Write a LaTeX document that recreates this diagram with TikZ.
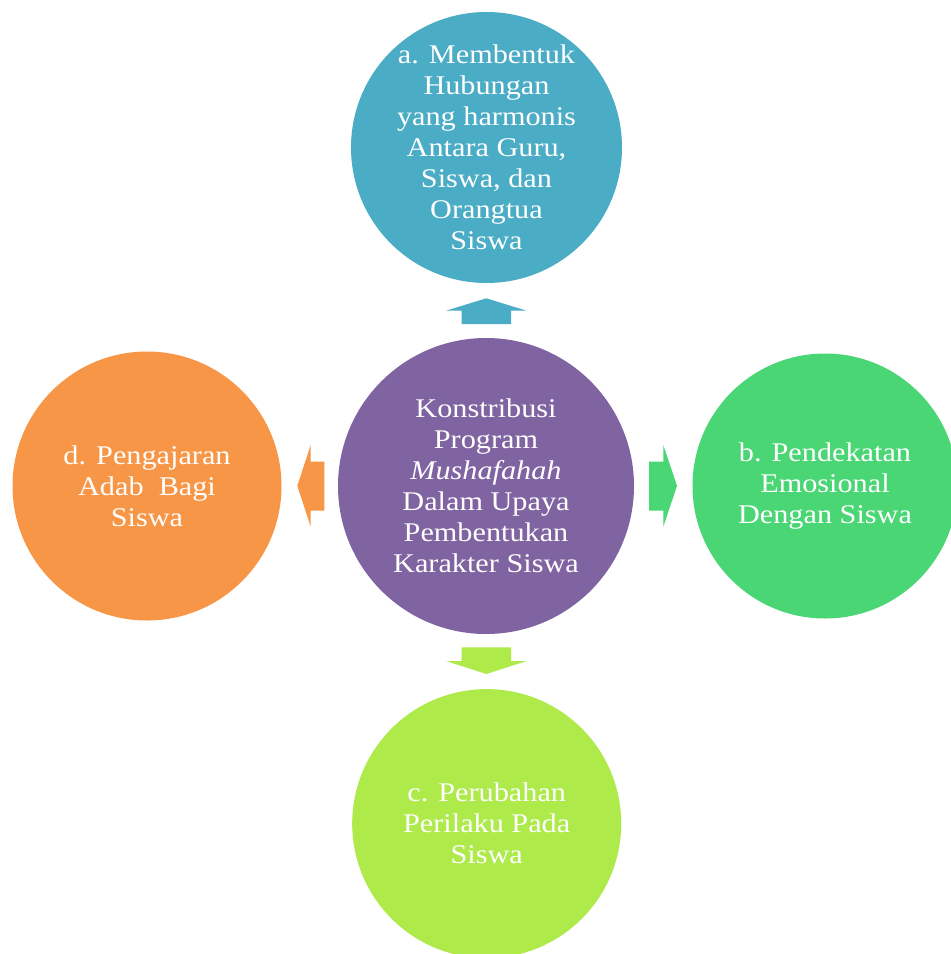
\documentclass[tikz,border=0pt]{standalone}
\usepackage{fontspec}
\setmainfont{Liberation Serif}[FakeStretch=1.12]
\definecolor{cTop}{HTML}{4BACC6}
\definecolor{cMid}{HTML}{8064A2}
\definecolor{cLeft}{HTML}{F79646}
\definecolor{cRight}{HTML}{4AD674}
\definecolor{cBot}{HTML}{ADEA4A}
\tikzset{
  bubble/.style={circle, inner sep=0pt, text=white, align=center,
    font=\fontsize{27}{31}\selectfont},
  blockarrow/.style={draw=none}
}
\begin{document}
\begin{tikzpicture}[x=1pt,y=-1pt]
\useasboundingbox (0,0) rectangle (951,954);
\clip (0,0) rectangle (951,954);
\fill[white] (0,0) rectangle (951,954);
% circles
\fill[cTop] (486.5,147.5) circle (135.5);
\fill[cMid] (486,486) circle (148);
\fill[cLeft] (147,486) circle (134.5);
\fill[cRight] (825,486) circle (132.5);
\fill[cBot] (486.7,823.6) circle (134.5);
% texts
\node[bubble] (a) at (486.5,147.5) {a. Membentuk\\Hubungan\\yang harmonis\\Antara Guru,\\Siswa, dan\\Orangtua\\Siswa};
\node[bubble] (k) at (486,486) {Konstribusi\\Program\\\textit{Mushafahah}\\Dalam Upaya\\Pembentukan\\Karakter Siswa};
\node[bubble] (d) at (147,486) {d. Pengajaran\\Adab\ \ Bagi\\Siswa};
\node[bubble] (b) at (825,486) {b. Pendekatan\\Emosional\\Dengan Siswa};
\node[bubble] (c) at (486.7,823.6) {c. Perubahan\\Perilaku Pada\\Siswa};
% block arrows
\fill[cTop,blockarrow] (461.7,324) -- (461.7,310.7) -- (446,310.7) -- (486.3,298.3) -- (526.7,310.7) -- (511,310.7) -- (511,324) -- cycle;
\fill[cBot,blockarrow] (461.7,647.3) -- (461.7,661) -- (446,661) -- (486.3,674) -- (526.7,661) -- (511,661) -- (511,647.3) -- cycle;
\fill[cLeft,blockarrow] (324.3,461.7) -- (310.7,461.7) -- (310.7,445) -- (297.3,485.8) -- (310.7,526.7) -- (310.7,510.7) -- (324.3,510.7) -- cycle;
\fill[cRight,blockarrow] (649,461.7) -- (663.3,461.7) -- (663.3,445) -- (677,485.8) -- (663.3,526.7) -- (663.3,510.7) -- (649,510.7) -- cycle;
\end{tikzpicture}
\end{document}
